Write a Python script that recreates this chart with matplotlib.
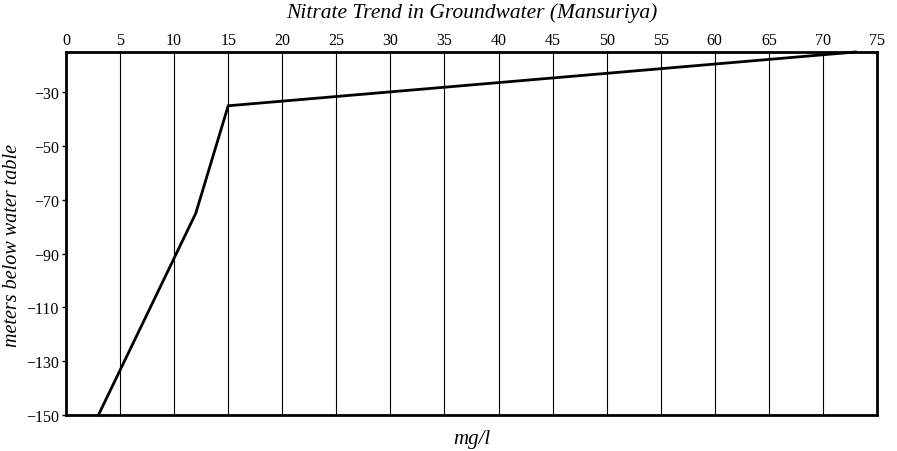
import matplotlib
matplotlib.use("Agg")
import matplotlib.pyplot as plt

nitrate = [3, 12, 15, 73]
depth = [-150, -75, -35, -15]
xticks = list(range(0, 80, 5))
yticks = [-30, -50, -70, -90, -110, -130, -150]

plt.rcParams['font.family'] = ['Liberation Serif', 'DejaVu Serif']

fig = plt.figure(figsize=(8.97, 4.52), dpi=100)
ax = fig.add_axes([66/897, 1-416/452, (877-66)/897, (416-53)/452])

ax.plot(nitrate, depth, color='black', lw=2, solid_joinstyle='miter', clip_on=False, zorder=3)
ax.set_xlim(0, 75)
ax.set_ylim(-150, -15)
ax.set_xticks(xticks)
ax.set_yticks(yticks)
ax.xaxis.tick_top()
ax.xaxis.set_label_position('bottom')
ax.tick_params(axis='x', length=0, pad=3, labelsize=11.5)
ax.tick_params(axis='y', length=3, width=1, pad=2, labelsize=11.5, direction='out')
for v in xticks[1:-1]:
    ax.axvline(v, color='black', lw=0.8, zorder=1)
for s in ax.spines.values():
    s.set_linewidth(2)
    s.set_color('black')

ax.set_title('Nitrate Trend in Groundwater (Mansuriya)', fontstyle='italic', fontsize=15.5, pad=25)
ax.set_xlabel('mg/l', fontstyle='italic', fontsize=15, labelpad=10)
ax.set_ylabel('meters below water table', fontstyle='italic', fontsize=14.5)
ax.yaxis.set_label_coords(-44/811, 0.47)

fig.savefig('out.png', dpi=100)
